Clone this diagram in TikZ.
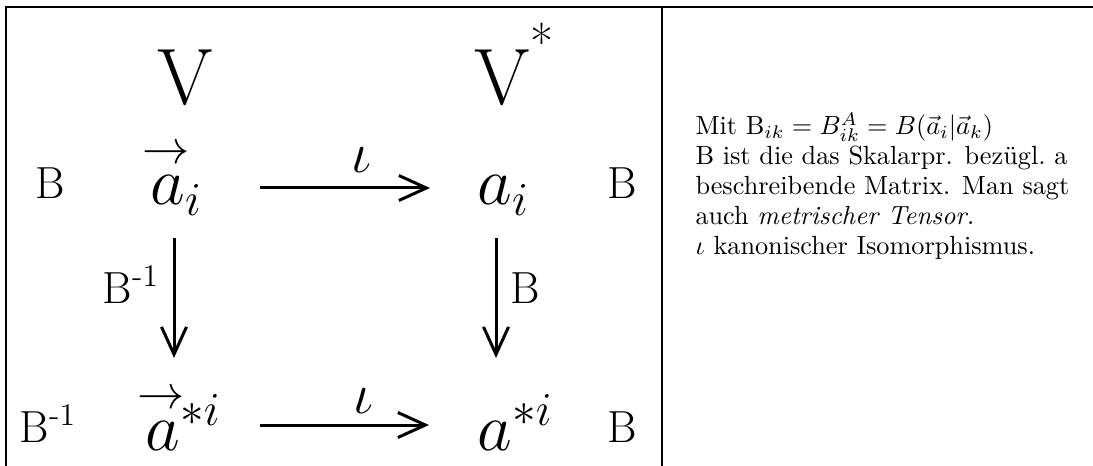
\RequirePackage{fix-cm}
\documentclass[tikz,border=0pt]{standalone}
\usepackage{fontspec}
\usetikzlibrary{arrows.meta,calc}
\newcommand\varr[1]{\rlap{\kern-0.12em\raisebox{0.62em}{$\scriptstyle\rightarrow$}}#1}
\begin{document}
\begin{tikzpicture}[x=0.4pt,y=-0.4pt,
  frame/.style={line width=0.8pt},
  big/.style={anchor=base,inner sep=0pt,font=\fontsize{32}{32}\selectfont},
  lbl/.style={anchor=base,inner sep=0pt,font=\fontsize{18}{18}\selectfont},
  obj/.style={anchor=base west,inner sep=0pt,font=\fontsize{27}{27}\selectfont},
  iotalbl/.style={anchor=base,inner sep=0pt,font=\fontsize{23}{23}\selectfont},
  arr/.style={line width=1.2pt,-{Straight Barb[length=11pt,width=10pt,line width=1.2pt]}},
  note/.style={anchor=north west,inner sep=0pt,align=left,font=\fontsize{10.5}{12}\selectfont}
]
\useasboundingbox (0,0) rectangle (1093,466);
% frame
\draw[frame] (1093,7) -- (6,7) -- (6,466);
\draw[frame] (662,7) -- (662,466);
% headings
\node[big] (V) at (185,105) {V};
\node[big] (Vs) at (514,105) {V\raisebox{0.55em}{\fontsize{20}{20}\selectfont *}};
% row 1
\node[lbl] (B1l) at (50,198) {B};
\node[obj] (a1) at (150,205) {\varr{$a$}$_{i}$};
\node[obj] (b1) at (477,205) {$a_{i}$};
\node[lbl] (B1r) at (622,198) {B};
\node[iotalbl] (i1) at (361,173) {$\iota$};
% row 2
\node[lbl] (B2l) at (48,442) {B\textsuperscript{-1}};
\node[obj] (a2) at (145,450) {\varr{$a$}$^{*i}$};
\node[obj] (b2) at (477,450) {$a^{*i}$};
\node[lbl] (B2r) at (622,442) {B};
\node[iotalbl] (i2) at (363,413) {$\iota$};
% vertical labels
\node[lbl] (Binv) at (131,303) {B\textsuperscript{-1}};
\node[lbl] (Bv) at (525,303) {B};
% arrows
\draw[arr] ($(a1.base west)+(110,-17)$) -- ($(b1.base west)+(-47,-17)$);
\draw[arr] ($(a2.base west)+(115,-25)$) -- ($(b2.base west)+(-48,-25)$);
\draw[arr] ($(a1.base west)+(24,33)$) -- ($(a2.base west)+(29,-92)$);
\draw[arr] ($(b1.base west)+(19,33)$) -- ($(b2.base west)+(19,-92)$);
% note
\node[note] (txt) at (695,112) {Mit B$_{ik}=B^A_{ik}=B(\vec a_i|\vec a_k)$\\
B ist die das Skalarpr. bezügl.\ a\\
beschreibende Matrix. Man sagt\\
auch \textit{metrischer Tensor.}\\
$\iota$ kanonischer Isomorphismus.};
\end{tikzpicture}
\end{document}
